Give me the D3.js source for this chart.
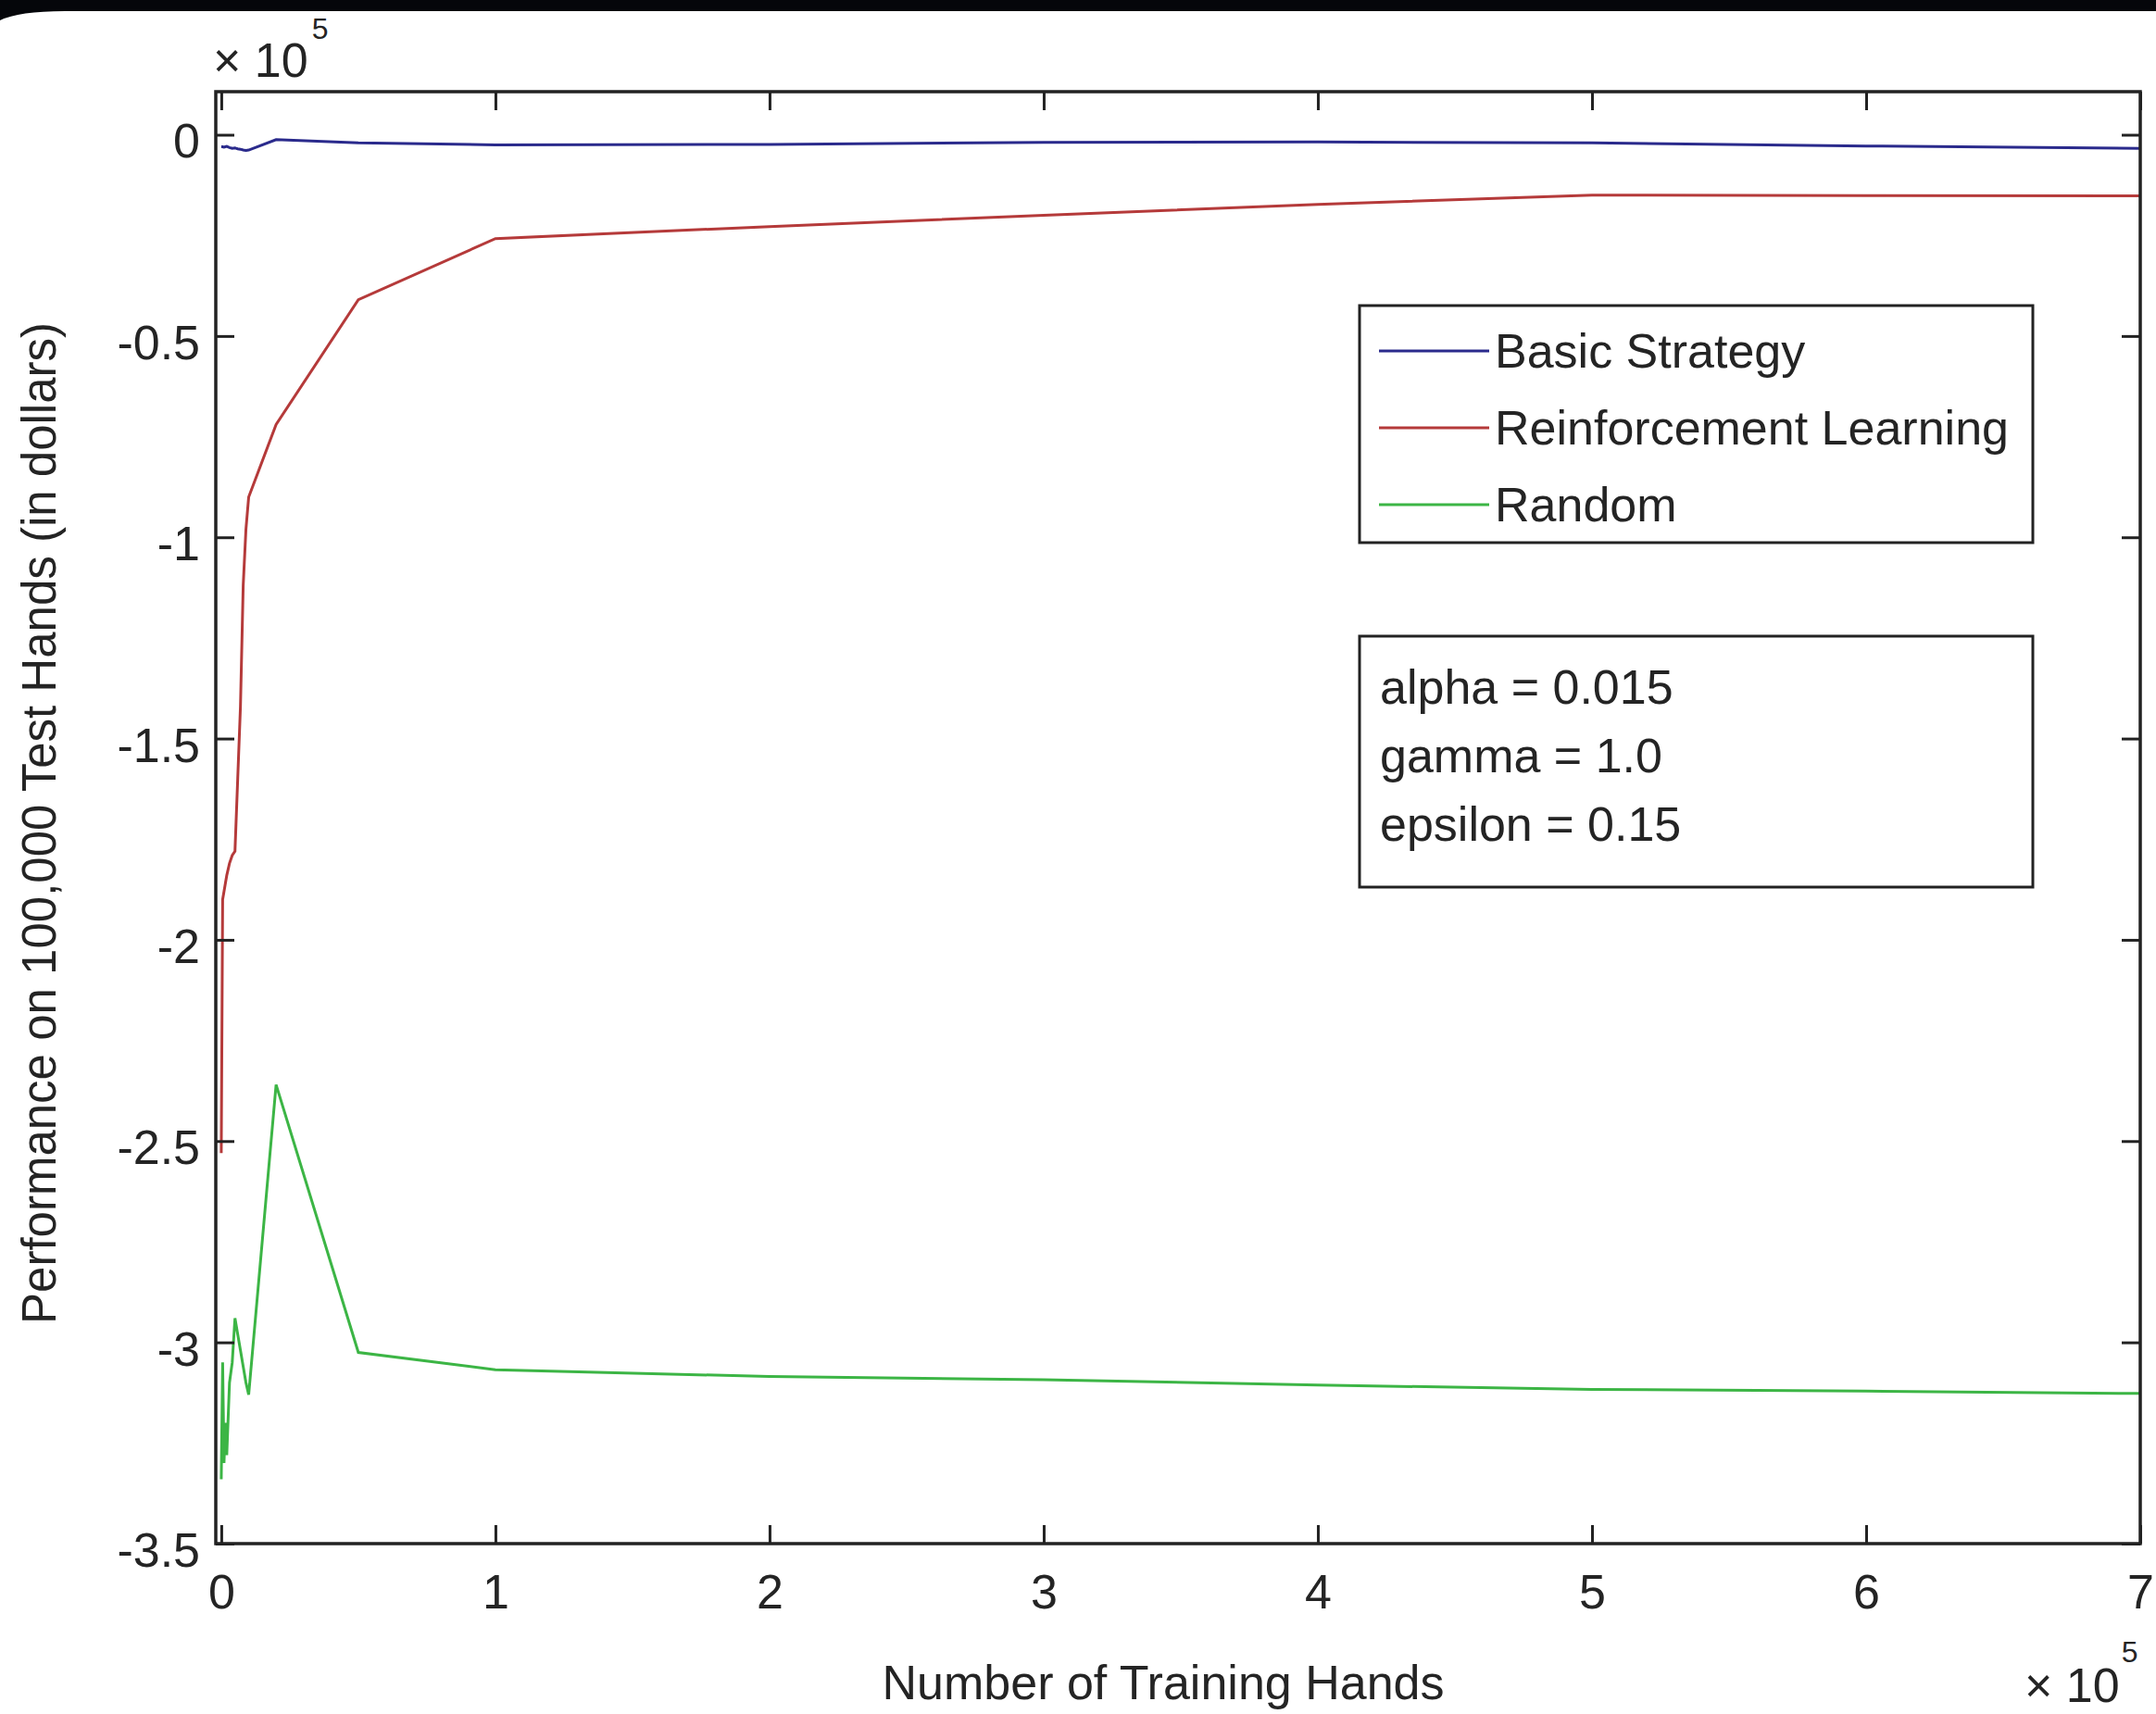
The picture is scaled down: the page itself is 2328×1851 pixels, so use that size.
<!DOCTYPE html>
<html>
<head>
<meta charset="utf-8">
<script src="https://cdn.jsdelivr.net/npm/d3@7"></script>
<style>
  html, body { margin: 0; padding: 0; background: #ffffff; }
  svg { display: block; }
  text { font-family: "Liberation Sans", Arial, Helvetica, sans-serif; fill: #242424; }
</style>
</head>
<body>
<svg id="chart" width="2328" height="1851"></svg>
<script>
// ---------------- data (x in units of 10^5 training hands, y in units of 10^5 dollars) -------------
const trainingHands = [0, 0.005, 0.01, 0.015, 0.02, 0.03, 0.04, 0.05, 0.06, 0.07, 0.08, 0.09, 0.1, 0.2, 0.5, 1, 2, 3, 4, 5, 6, 7];
const basicStrategy = [-0.03, -0.03, -0.031, -0.03, -0.029, -0.032, -0.034, -0.033, -0.035, -0.036, -0.038, -0.039, -0.038, -0.012, -0.02, -0.025, -0.024, -0.019, -0.018, -0.02, -0.028, -0.034];
const reinforcement = [-2.53, -1.9, -1.88, -1.86, -1.84, -1.81, -1.79, -1.78, -1.6, -1.42, -1.12, -0.98, -0.9, -0.72, -0.41, -0.258, -0.228, -0.2, -0.173, -0.15, -0.151, -0.152];
const randomPolicy = [-3.34, -3.05, -3.3, -3.2, -3.28, -3.1, -3.05, -2.94, -2.98, -3.02, -3.06, -3.1, -3.13, -2.36, -3.025, -3.068, -3.085, -3.093, -3.106, -3.117, -3.121, -3.127];

const seriesNames = ["Basic Strategy", "Reinforcement Learning", "Random"];
const seriesColors = ["#2a2a8c", "#b53a3a", "#3cb545"];

const xTickValues = [0, 1, 2, 3, 4, 5, 6, 7];
const xTickLabels = ["0", "1", "2", "3", "4", "5", "6", "7"];
const yTickValues = [0, -0.5, -1, -1.5, -2, -2.5, -3, -3.5];
const yTickLabels = ["0", "-0.5", "-1", "-1.5", "-2", "-2.5", "-3", "-3.5"];

const paramLines = ["alpha = 0.015", "gamma = 1.0", "epsilon = 0.15"];
const xAxisTitle = "Number of Training Hands";
const yAxisTitle = "Performance on 100,000 Test Hands (in dollars)";

// ---------------- layout -------------
const W = 2328, H = 1851;
const plot = { left: 233, right: 2311, top: 99, bottom: 1667 };
const FS = 52;

const svg = d3.select("#chart");
svg.append("rect").attr("width", W).attr("height", H).attr("fill", "#ffffff");

const x = d3.scaleLinear().domain([-0.02, 7]).range([plot.left, plot.right]);
const y = d3.scaleLinear().domain([-3.5, 0.107]).range([plot.bottom, plot.top]);

// series lines
const allSeries = [basicStrategy, reinforcement, randomPolicy];
const line = d3.line().x(d => x(d[0])).y(d => y(d[1]));
const gLines = svg.append("g");
allSeries.forEach((vals, i) => {
  const pts = trainingHands.map((h, k) => [h, vals[k]]);
  gLines.append("path")
    .attr("d", line(pts))
    .attr("fill", "none")
    .attr("stroke", seriesColors[i])
    .attr("stroke-width", 3)
    .attr("stroke-linejoin", "miter");
});

// axes (MATLAB style: inward ticks on all four sides)
const tickLen = 20;
const styleAxis = g => {
  g.select(".domain").remove();
  g.selectAll(".tick line").attr("stroke", "#222").attr("stroke-width", 3);
  g.selectAll(".tick text").attr("font-size", FS).attr("fill", "#242424")
    .attr("font-family", '"Liberation Sans", Arial, sans-serif');
};

svg.append("g").attr("transform", `translate(${plot.left},0)`)
  .call(d3.axisLeft(y).tickValues(yTickValues).tickSize(-tickLen).tickPadding(17)
    .tickFormat((d, i) => yTickLabels[i]))
  .call(styleAxis)
  .call(g => g.selectAll(".tick text").attr("dy", "0.47em"));

svg.append("g").attr("transform", `translate(${plot.right},0)`)
  .call(d3.axisRight(y).tickValues(yTickValues).tickSize(-tickLen).tickFormat(""))
  .call(styleAxis);

svg.append("g").attr("transform", `translate(0,${plot.bottom})`)
  .call(d3.axisBottom(x).tickValues(xTickValues).tickSize(-tickLen).tickPadding(33)
    .tickFormat((d, i) => xTickLabels[i]))
  .call(styleAxis);

svg.append("g").attr("transform", `translate(0,${plot.top})`)
  .call(d3.axisTop(x).tickValues(xTickValues).tickSize(-tickLen).tickFormat(""))
  .call(styleAxis);

// box
svg.append("rect")
  .attr("x", plot.left).attr("y", plot.top)
  .attr("width", plot.right - plot.left).attr("height", plot.bottom - plot.top)
  .attr("fill", "none").attr("stroke", "#222").attr("stroke-width", 3.5);

// exponent labels
const expTop = svg.append("text").attr("x", 230).attr("y", 83).attr("font-size", FS);
expTop.append("tspan").text("\u00d7 10");
expTop.append("tspan").attr("font-size", 32).attr("dy", -41).attr("dx", 4).text("5");

const expBot = svg.append("text").attr("x", 2186).attr("y", 1838).attr("font-size", FS);
expBot.append("tspan").text("\u00d7 10");
expBot.append("tspan").attr("font-size", 32).attr("dy", -43).attr("dx", 2).text("5");

// axis titles
svg.append("text").attr("x", 1256).attr("y", 1835).attr("text-anchor", "middle")
  .attr("font-size", FS).text(xAxisTitle);
svg.append("text").attr("transform", "translate(60,889) rotate(-90)")
  .attr("text-anchor", "middle").attr("font-size", 51).text(yAxisTitle);

// legend
const leg = { x: 1468, y: 330, w: 727, h: 256 };
svg.append("rect").attr("x", leg.x).attr("y", leg.y).attr("width", leg.w).attr("height", leg.h)
  .attr("fill", "#ffffff").attr("stroke", "#222").attr("stroke-width", 3);
const legRows = [379, 462, 545];
seriesNames.forEach((name, i) => {
  svg.append("line").attr("x1", 1489).attr("x2", 1608)
    .attr("y1", legRows[i]).attr("y2", legRows[i])
    .attr("stroke", seriesColors[i]).attr("stroke-width", 3);
  svg.append("text").attr("x", 1614).attr("y", legRows[i] + 18).attr("font-size", FS).text(name);
});

// parameter box
const pb = { x: 1468, y: 687, w: 727, h: 271 };
svg.append("rect").attr("x", pb.x).attr("y", pb.y).attr("width", pb.w).attr("height", pb.h)
  .attr("fill", "#ffffff").attr("stroke", "#222").attr("stroke-width", 3);
const pRows = [760, 834, 908];
paramLines.forEach((t, i) => {
  svg.append("text").attr("x", 1490).attr("y", pRows[i]).attr("font-size", FS)
    .attr("xml:space", "preserve").text(t);
});

// dark photo frame at the top edge
svg.append("path")
  .attr("d", `M0,0 H${W} V12 H70 Q20,12 0,22 Z`)
  .attr("fill", "#05060a");
</script>
</body>
</html>
